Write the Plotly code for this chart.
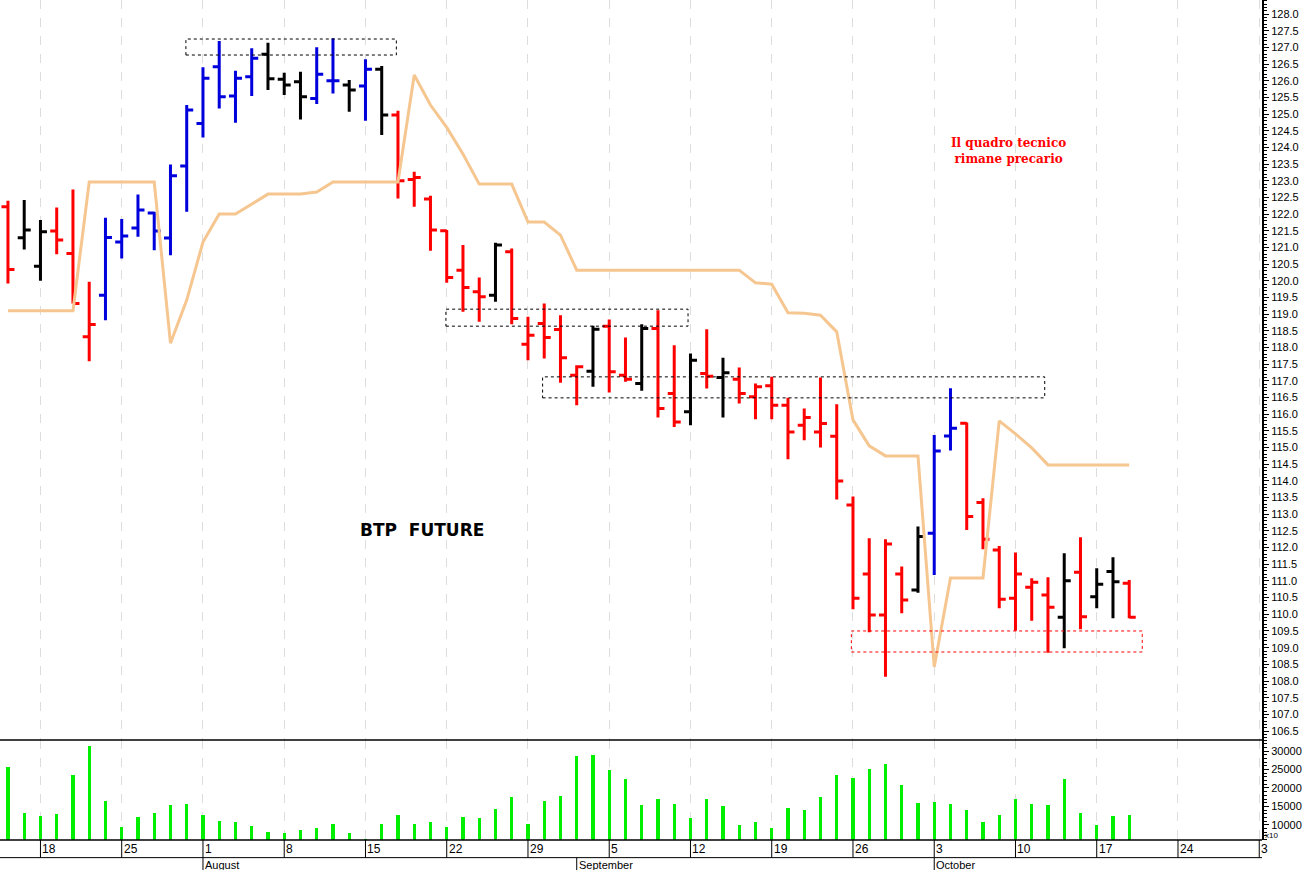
import plotly.graph_objects as go
from plotly.subplots import make_subplots
import pandas as pd

# trading days 14 Jul - 19 Oct 2011
dates = pd.bdate_range("2011-07-14", "2011-10-19")

opens = [122.22, 121.29, 120.44, 121.49, 120.82, 118.32, 119.57, 121.16, 121.58, 122.03, 121.28, 123.44,
         124.72, 126.42, 125.54, 126.12, 126.79, 126.04, 125.97, 125.47, 126.0, 125.87, 125.84, 126.34,
         124.97, 123.04, 122.45, 121.5, 120.32, 119.67, 119.57, 120.87, 118.1, 118.72, 118.54, 117.17,
         117.29, 118.64, 117.17, 116.92, 118.57, 116.62, 116.07, 117.22, 117.1, 117.05, 116.52, 116.85,
         116.27, 115.67, 115.47, 115.34, 113.28, 111.21, 109.98, 111.21, 110.73, 112.43, 115.35, 115.73,
         113.35, 111.93, 110.48, 110.81, 110.58, 109.91, 111.26, 110.53, 111.28, 110.93]
highs = [122.4, 122.42, 121.82, 122.2, 122.74, 119.97, 121.89, 121.85, 122.59, 122.07, 123.49, 125.27,
         126.4, 127.19, 126.3, 126.97, 127.14, 126.24, 126.27, 127.0, 127.27, 126.02, 126.64, 126.44,
         125.1, 123.27, 122.55, 121.52, 121.07, 120.1, 121.14, 120.97, 118.92, 119.32, 118.97, 117.47,
         118.65, 118.84, 118.3, 118.7, 119.12, 118.07, 117.82, 118.55, 117.69, 117.4, 116.92, 117.12,
         116.49, 116.17, 117.1, 116.3, 113.53, 112.28, 112.25, 111.43, 112.63, 115.38, 116.78, 115.75,
         113.48, 112.05, 111.85, 111.08, 111.11, 111.83, 112.31, 111.38, 111.71, 111.03]
lows = [119.92, 120.94, 120.0, 120.8, 119.32, 117.59, 118.82, 120.67, 121.32, 120.92, 120.77, 122.07,
        124.3, 125.17, 124.74, 125.54, 125.72, 125.57, 124.84, 125.3, 125.62, 125.07, 124.8, 124.37,
        122.47, 122.22, 120.9, 119.94, 119.07, 118.77, 119.37, 118.7, 117.62, 117.67, 116.94, 116.27,
        116.82, 116.65, 116.97, 116.7, 115.9, 115.62, 115.67, 116.77, 115.9, 116.32, 115.85, 115.85,
        114.65, 115.22, 115.0, 113.44, 110.15, 109.46, 108.13, 110.03, 110.65, 111.18, 114.91, 112.53,
        111.95, 110.18, 109.51, 109.81, 108.85, 108.98, 109.55, 110.18, 109.88, 109.88]
closes = [120.34, 121.52, 121.47, 121.22, 119.32, 118.69, 121.3, 121.34, 122.12, 121.49, 123.15, 125.12,
          126.07, 125.52, 126.07, 126.67, 126.06, 125.87, 125.52, 126.19, 126.0, 125.72, 126.34, 124.97,
          123.0, 123.1, 121.52, 120.1, 119.8, 119.52, 121.07, 118.87, 118.37, 118.3, 117.69, 117.42,
          118.55, 117.27, 117.05, 118.57, 116.17, 115.77, 117.62, 117.14, 117.24, 116.62, 116.82, 116.27,
          115.47, 115.9, 115.72, 114.0, 110.48, 109.98, 112.11, 110.43, 112.33, 114.9, 115.58, 112.93,
          112.25, 110.45, 111.21, 110.96, 110.21, 111.01, 109.93, 110.9, 110.98, 109.91]
bar_colors = list("rkkrrrbbbbbbbbbbkkkbbkbkrrrrrrkrrrrrkrrkrrkrkrrrrrrrrrrrkbbrrrrrrkrkkr")
stop_line = [119.1, 119.1, 119.1, 119.1, 119.1, 122.96, 122.96, 122.96, 122.96, 122.96, 118.13, 119.42,
             121.16, 122.0, 122.0, 122.3, 122.6, 122.6, 122.6, 122.66, 122.96, 122.96, 122.96, 122.96,
             122.96, 126.17, 125.27, 124.6, 123.8, 122.9, 122.9, 122.9, 121.76, 121.76, 121.37, 120.32,
             120.32, 120.32, 120.32, 120.32, 120.32, 120.32, 120.32, 120.32, 120.32, 120.32, 119.94, 119.9,
             119.04, 119.03, 118.97, 118.47, 115.83, 115.05, 114.75, 114.75, 114.75, 108.42, 111.09, 111.09,
             111.09, 115.8, 115.41, 114.99, 114.48, 114.48, 114.48, 114.48, 114.48, 114.48]
volumes = [25800, 13200, 12470, 13010, 23520, 31280, 16390, 9450, 12100, 13200, 15390, 15570,
           12650, 11000, 10820, 9730, 8170, 7900, 8630, 9090, 10270, 7900, 6080, 10180,
           12650, 10270, 10730, 9450, 12100, 11830, 14300, 17580, 10270, 16390, 17860, 28540,
           28810, 24790, 22420, 15390, 17030, 15750, 11920, 17030, 15210, 9990, 10820, 9090,
           14570, 14110, 17670, 23420, 22780, 25070, 26620, 20770, 15940, 16210, 15660, 14110,
           10730, 12740, 17120, 15660, 15300, 22330, 13200, 9990, 12470, 12560]

# weekly tick positions (trading-day index) and labels
tick_idx = [2, 7, 12, 17, 22, 27, 32, 37, 42, 47, 52, 57, 62, 67, 72, 77]
tick_text = ["18", "25", "1", "8", "15", "22", "29", "5", "12", "19", "26", "3", "10", "17", "24", "3"]
month_idx = [12, 35, 57]
month_text = ["August", "September", "October"]
vol_ticks = [10000, 15000, 20000, 25000, 30000]
# support/resistance zones: (x0, x1, y0, y1, colour)
zones = [(10.95, 23.9, 126.77, 127.25, "black"), (26.95, 41.85, 118.64, 119.15, "black"),
         (32.9, 63.8, 116.49, 117.12, "black"), (51.9, 69.8, 108.87, 109.5, "red")]

x = list(range(len(dates)))
cmap = {"r": "#ff0000", "k": "#000000", "b": "#0000dd"}

fig = make_subplots(rows=2, cols=1, shared_xaxes=True, vertical_spacing=0, row_heights=[0.881, 0.119])

fig.add_trace(go.Scatter(x=x, y=stop_line, mode="lines", line=dict(color="#f6c690", width=3),
                         hoverinfo="skip"), row=1, col=1)
for key, col in cmap.items():
    sel = [i for i in x if bar_colors[i] == key]
    fig.add_trace(go.Ohlc(x=sel, open=[opens[i] for i in sel], high=[highs[i] for i in sel],
                          low=[lows[i] for i in sel], close=[closes[i] for i in sel], tickwidth=0.4,
                          increasing=dict(line=dict(color=col, width=3)),
                          decreasing=dict(line=dict(color=col, width=3))), row=1, col=1)
fig.add_trace(go.Bar(x=x, y=volumes, marker_color="#00ee00", marker_line_width=0, width=0.2), row=2, col=1)

for x0, x1, y0, y1, c in zones:
    fig.add_shape(type="rect", x0=x0, x1=x1, y0=y0, y1=y1, xref="x", yref="y",
                  line=dict(color=c, width=1, dash="dot"))

fig.add_annotation(x=25.5, y=112.53, xref="x", yref="y", text="<b>BTP  FUTURE</b>", showarrow=False,
                   font=dict(family="DejaVu Sans", size=17, color="black"))
fig.add_annotation(x=61.6, y=123.9, xref="x", yref="y", text="<b>Il quadro tecnico<br>rimane precario</b>",
                   showarrow=False, font=dict(family="DejaVu Serif", size=12, color="red"))

for i, t in zip(tick_idx, tick_text):
    fig.add_annotation(x=i, y=0, xref="x2", yref="paper", yanchor="top", xanchor="left", xshift=0, yshift=0,
                       text=t, showarrow=False, font=dict(family="Liberation Sans", size=12, color="black"))
    fig.add_shape(type="line", x0=i, x1=i, y0=-0.021, y1=0, xref="x2", yref="paper", line=dict(color="black", width=1))
for i, t in zip(month_idx, month_text):
    fig.add_annotation(x=i, y=-0.021, xref="x2", yref="paper", yanchor="top", xanchor="left", xshift=0, yshift=1,
                       text=t, showarrow=False, font=dict(family="Liberation Sans", size=11, color="black"))
    fig.add_shape(type="line", x0=i, x1=i, y0=-0.04, y1=-0.021, xref="x2", yref="paper",
                  line=dict(color="black", width=1))
fig.add_shape(type="line", x0=0, x1=1, y0=-0.021, y1=-0.021, xref="paper", yref="paper", line=dict(color="black", width=1))
fig.add_annotation(x=1, y=0.0, xref="paper", yref="paper", xanchor="left", yanchor="bottom", xshift=1, yshift=-2,
                   text="x10", showarrow=False, font=dict(family="Liberation Sans", size=8, color="black"))

xr = [-0.49, 77.17]
fig.update_xaxes(range=xr, tickvals=tick_idx, showticklabels=False, showgrid=True, gridcolor="#dddddd",
                 griddash="dash", gridwidth=1, zeroline=False, rangeslider_visible=False, ticks="")
fig.update_yaxes(side="right", showgrid=False, zeroline=False, ticks="outside", tickcolor="black",
                 showline=True, linecolor="black", linewidth=2, automargin=False,
                 tickfont=dict(family="Liberation Sans", size=11, color="black"))
fig.update_yaxes(range=[106.23, 128.42], dtick=0.5, tickformat=".1f", ticklen=5,
                 minor=dict(dtick=0.1, ticks="outside", ticklen=3, tickcolor="black"), row=1, col=1)
fig.update_yaxes(range=[5890, 33000], tickvals=vol_ticks, ticktext=[str(v) for v in vol_ticks], ticklen=5,
                 minor=dict(dtick=1000, ticks="outside", ticklen=3, tickcolor="black"), row=2, col=1)
fig.add_shape(type="line", x0=0, x1=1, y0=0.119, y1=0.119, xref="paper", yref="paper", line=dict(color="black", width=1.5))
fig.add_shape(type="line", x0=0, x1=1, y0=0, y1=0, xref="paper", yref="paper", line=dict(color="black", width=1.5))

fig.update_layout(width=1312, height=870, margin=dict(l=0, r=50, t=0, b=30, autoexpand=False), showlegend=False,
                  plot_bgcolor="white", paper_bgcolor="white", bargap=0)
fig.write_html("out.html", config={"displayModeBar": False},
               post_script="document.body.style.margin='0';document.body.style.overflow='hidden';")
